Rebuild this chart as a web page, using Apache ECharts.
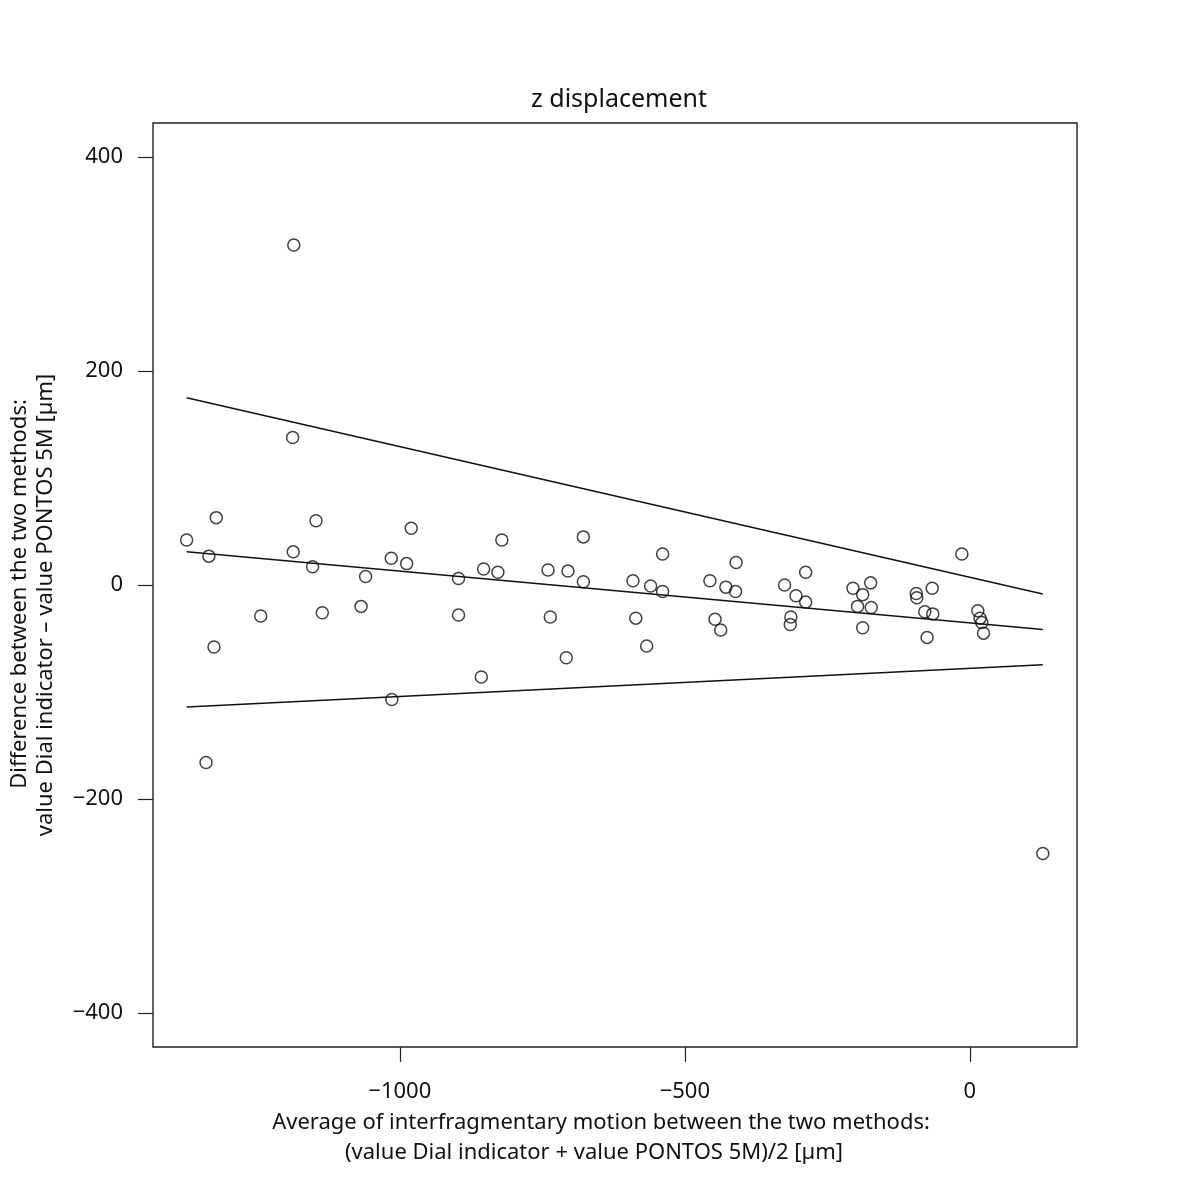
<!DOCTYPE html>
<html>
<head>
<meta charset="utf-8">
<script src="https://cdn.jsdelivr.net/npm/echarts@6/dist/echarts.min.js"></script>
<style>html,body{margin:0;padding:0;background:#fff}#c{width:1200px;height:1200px}</style>
</head>
<body>
<div id="c"></div>
<script>
// Mean of the two methods (x) and difference (y)
const meanValues = [
  -1374, -1322, -1335, -1326, -1340, -1244, -1187, -1186, -1188, -1147,
  -1153, -1136, -1068, -1060, -1015, -1014, -988, -980, -897, -897,
  -857, -853, -828, -821, -740, -736, -708, -705, -678, -678,
  -591, -586, -567, -560, -539, -539, -456, -447, -437, -428,
  -411, -410, -325, -315, -314, -305, -288, -288, -205, -197,
  -188, -188, -174, -173, -94, -93, -79, -75, -66, -65,
  -14, 14, 18, 21, 24, 128
];
const diffValues = [
  42, 63, 27, -58, -166, -29, 31, 318, 138, 60,
  17, -26, -20, 8, 25, -107, 20, 53, 6, -28,
  -86, 15, 12, 42, 14, -30, -68, 13, 45, 3,
  4, -31, -57, -1, 29, -6, 4, -32, -42, -2,
  -6, 21, 0, -37, -30, -10, 12, -16, -3, -20,
  -9, -40, 2, -21, -8, -12, -25, -49, -3, -27,
  29, -24, -31, -35, -45, -251
];
// Regression lines (mean, upper and lower limits), endpoints at x = lineX
const lineX = [-1374, 128];
const meanLineY = [31, -41.5];
const upperLineY = [175, -8.5];
const lowerLineY = [-114, -74.5];

const xTicks = [-1000, -500, 0];
const yTicks = [-400, -200, 0, 200, 400];

const titleText = 'z displacement';
const xTitle = ['Average of interfragmentary motion between the two methods:', '(value Dial indicator + value PONTOS 5M)/2 [\u00b5m]'];
const yTitle = ['Difference between the two methods:', 'value Dial indicator \u2013 value PONTOS 5M [\u00b5m]'];

const FONT = 'Noto Sans';
const fmt = v => String(v).replace('-', '\u2212');

const pts = meanValues.map((x, i) => [x, diffValues[i]]);
const mk = ys => lineX.map((x, i) => [x, ys[i]]);
const lineSeries = (ys) => ({
  type: 'line', data: mk(ys), showSymbol: false, silent: true,
  lineStyle: { color: '#111', width: 1.5 }, z: 1, animation: false
});

const chart = echarts.init(document.getElementById('c'), null, { renderer: 'canvas' });
chart.setOption({
  animation: false,
  backgroundColor: '#fff',
  title: {
    text: titleText, left: 614, textAlign: 'center', top: 82,
    textStyle: { fontFamily: FONT, fontSize: 25, fontWeight: 'normal', color: '#111' }
  },
  grid: { left: 153, top: 123, right: 123, bottom: 153, show: true, borderColor: '#222', borderWidth: 1.4, backgroundColor: 'transparent' },
  xAxis: {
    type: 'value', min: -1433, max: 188,
    axisLine: { show: false, onZero: false },
    splitLine: { show: false },
    axisTick: { show: true, length: 15, lineStyle: { color: '#222', width: 1.2 }, customValues: xTicks },
    axisLabel: { margin: 34, fontFamily: FONT, fontSize: 22, color: '#111', formatter: fmt, customValues: xTicks }
  },
  yAxis: {
    type: 'value', min: -432, max: 432,
    axisLine: { show: false, onZero: false },
    splitLine: { show: false },
    axisTick: { show: true, length: 15, lineStyle: { color: '#222', width: 1.2 }, customValues: yTicks },
    axisLabel: { margin: 30, fontFamily: FONT, fontSize: 22, color: '#111', formatter: fmt, customValues: yTicks }
  },
  graphic: [
    { type: 'text', x: 601, y: 1123, style: { text: xTitle[0], font: '22px "Noto Sans"', fill: '#111', textAlign: 'center', textVerticalAlign: 'middle' } },
    { type: 'text', x: 594, y: 1153, style: { text: xTitle[1], font: '22px "Noto Sans"', fill: '#111', textAlign: 'center', textVerticalAlign: 'middle' } },
    { type: 'text', x: 20, y: 594, rotation: Math.PI / 2, style: { text: yTitle[0], font: '22px "Noto Sans"', fill: '#111', textAlign: 'center', textVerticalAlign: 'middle' } },
    { type: 'text', x: 46, y: 605, rotation: Math.PI / 2, style: { text: yTitle[1], font: '22px "Noto Sans"', fill: '#111', textAlign: 'center', textVerticalAlign: 'middle' } }
  ],
  series: [
    lineSeries(upperLineY),
    lineSeries(meanLineY),
    lineSeries(lowerLineY),
    {
      type: 'scatter', data: pts, symbol: 'circle', symbolSize: 12, z: 3,
      itemStyle: { color: 'rgba(0,0,0,0)', borderColor: '#111', borderWidth: 1.5 }
    }
  ]
});
</script>
</body>
</html>
